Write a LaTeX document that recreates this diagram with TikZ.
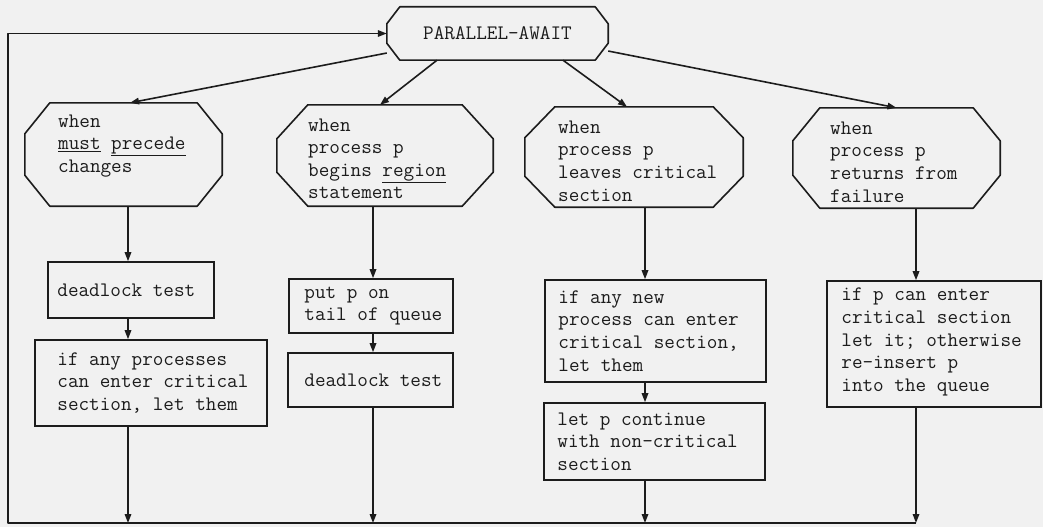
\documentclass[tikz,border=0pt]{standalone}
\usetikzlibrary{arrows.meta}
\definecolor{paper}{RGB}{241,241,241}
\definecolor{ink}{RGB}{28,28,28}
\newcommand\octpath[3]{\draw[shapeline] ([xshift=#2pt]#1.north west) -- ([xshift=-#2pt]#1.north east) -- ([yshift=-#3pt]#1.north east) -- ([yshift=#3pt]#1.south east) -- ([xshift=-#2pt]#1.south east) -- ([xshift=#2pt]#1.south west) -- ([yshift=#3pt]#1.south west) -- ([yshift=-#3pt]#1.north west) -- cycle;}
\begin{document}
\begin{tikzpicture}[x=1pt,y=-1pt,
  font=\ttfamily\fontsize{20.6}{22.6}\selectfont,
  shapeline/.style={draw=ink,line width=1.6pt,line join=round},
  holder/.style={draw=none,inner sep=0pt,text=ink},
  boxnode/.style={draw=ink,line width=1.6pt,inner sep=0pt},
  txt/.style={anchor=west,align=left,inner sep=0pt,text=ink},
  arr/.style={shapeline,-{Triangle[length=9pt,width=6.5pt]}}]
\fill[paper] (0,0) rectangle (1043,527);
\useasboundingbox (0,0) rectangle (1043,527);

% top node
\node[holder,minimum width=221pt,minimum height=53pt] (P) at (497.5,33.5) {PARALLEL-AWAIT};
\octpath{P}{13}{17}

% event octagons
\node[holder,minimum width=197pt,minimum height=103pt] (O1) at (123.5,154.5) {};
\node[holder,minimum width=216pt,minimum height=101pt] (O2) at (385,155.5) {};
\node[holder,minimum width=218pt,minimum height=100pt] (O3) at (634,157) {};
\node[holder,minimum width=207pt,minimum height=100pt] (O4) at (896.5,158) {};
\octpath{O1}{25}{31}
\octpath{O2}{31}{34}
\octpath{O3}{30}{31}
\octpath{O4}{27}{33}

\node[txt] (tO1) at (58,145.7) {when\\\underline{must} \underline{precede}\\changes};
\node[txt] (tO2) at (308,158.8) {when\\process p\\begins \underline{region}\\statement};
\node[txt] (tO3) at (558,161) {when\\process p\\leaves critical\\section};
\node[txt] (tO4) at (830,162) {when\\process p\\returns from\\failure};

% action boxes
\node[boxnode,minimum width=166pt,minimum height=56pt] (D1) at (131,290) {};
\node[boxnode,minimum width=232pt,minimum height=86pt] (I1) at (151,383) {};
\node[boxnode,minimum width=164pt,minimum height=54pt] (Q2) at (371,306) {};
\node[boxnode,minimum width=165pt,minimum height=54pt] (D2) at (370.5,380) {};
\node[boxnode,minimum width=221pt,minimum height=102pt] (N3) at (655.5,331) {};
\node[boxnode,minimum width=221pt,minimum height=77pt] (L3) at (654.5,441.5) {};
\node[boxnode,minimum width=214pt,minimum height=126pt] (R4) at (934,344) {};

\node[txt] (tD1) at ([xshift=10pt]D1.west) {deadlock test};
\node[txt] (tI1) at ([xshift=23pt]I1.west) {if any processes\\can enter critical\\section, let them};
\node[txt] (tQ2) at ([xshift=16pt]Q2.west) {put p on\\tail of queue};
\node[txt] (tD2) at ([xshift=17pt]D2.west) {deadlock test};
\node[txt] (tN3) at ([xshift=14pt]N3.west) {if any new\\process can enter\\critical section,\\let them};
\node[txt] (tL3) at ([xshift=14pt]L3.west) {let p continue\\with non-critical\\section};
\node[txt] (tR4) at ([xshift=15pt,yshift=2pt]R4.west) {if p can enter\\critical section\\let it; otherwise\\re-insert p\\into the queue};

% column and loop coordinates
\coordinate (c1) at (128,0);
\coordinate (c2) at (373,0);
\coordinate (c3) at (645,0);
\coordinate (c4) at (916,0);
\coordinate (bl) at (8,523);
\coordinate (br) at (916,523);

% fan-out from PARALLEL-AWAIT
\draw[arr] (P.190) -- ([xshift=6.5pt]O1.north);
\draw[arr] ([xshift=-60.5pt]P.south) -- ([xshift=-5pt]O2.north);
\draw[arr] ([xshift=65.5pt]P.south) -- ([xshift=-7pt]O3.north);
\draw[arr] (P.-9) -- (O4.north);

% column 1
\draw[arr] (O1.south -| c1) -- (D1.north -| c1);
\draw[arr] (D1.south -| c1) -- (I1.north -| c1);
\draw[arr] (I1.south -| c1) -- (c1 |- bl);
% column 2
\draw[arr] (O2.south -| c2) -- (Q2.north -| c2);
\draw[arr] (Q2.south -| c2) -- (D2.north -| c2);
\draw[arr] (D2.south -| c2) -- (c2 |- bl);
% column 3
\draw[arr] (O3.south -| c3) -- (N3.north -| c3);
\draw[arr] (N3.south -| c3) -- (L3.north -| c3);
\draw[arr] (L3.south -| c3) -- (c3 |- bl);
% column 4
\draw[arr] (O4.south -| c4) -- (R4.north -| c4);
\draw[arr] (R4.south -| c4) -- (br);

% return loop
\draw[arr] (br) -- (bl) |- (P.west);
\end{tikzpicture}
\end{document}
